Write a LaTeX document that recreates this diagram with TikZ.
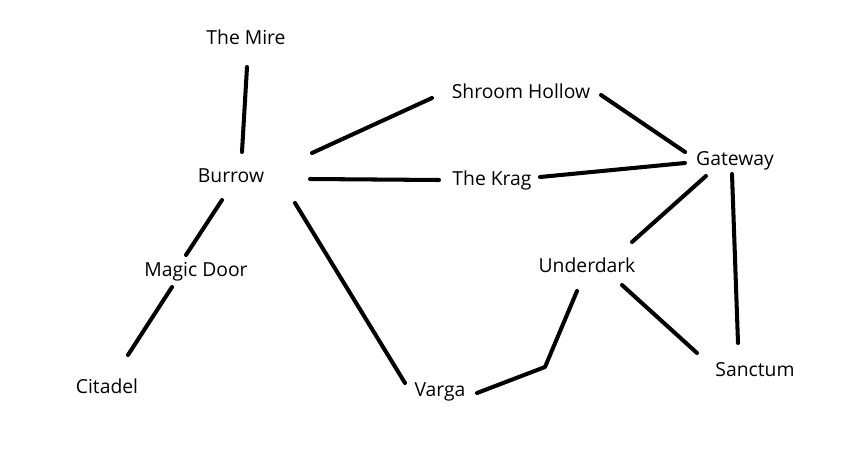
\documentclass[tikz,border=0pt]{standalone}
\usepackage{fontspec}
\setmainfont{Open Sans}
\usetikzlibrary{calc}
\tikzset{
    mapgraph/.style={x=0.02cm, y=-0.02cm, font=\fontsize{11pt}{13pt}\selectfont},
    place/.style={anchor=base, inner sep=0pt},
    path/.style={line width=2.3pt, line cap=round, line join=round},
}
\begin{document}
\begin{tikzpicture}[mapgraph]
    \useasboundingbox (0,0) rectangle (854,466);

    % places
    \node[place] (mire)    at (246,45)  {The Mire};
    \node[place] (burrow)  at (231,182) {Burrow};
    \node[place] (door)    at (196,276) {Magic Door};
    \node[place] (citadel) at (107,393) {Citadel};
    \node[place] (shroom)  at (521,98)  {Shroom Hollow};
    \node[place] (krag)    at (492,185) {The Krag};
    \node[place] (gateway) at (735,165) {Gateway};
    \node[place] (under)   at (587,272) {Underdark};
    \node[place] (varga)   at (440,396) {Varga};
    \node[place] (sanctum) at (755,376) {Sanctum};

    % tunnels
    \draw[path] ($(mire.base)+(1,22)$) -- ($(burrow.base)+(11,-30)$);
    \draw[path] ($(burrow.base)+(-9,18)$) -- ($(door.base)+(-10,-21)$);
    \draw[path] ($(door.base)+(-24,11)$) -- ($(citadel.base)+(21,-38)$);
    \draw[path] ($(burrow.base)+(81,-29)$) -- ($(shroom.base)+(-89,0)$);
    \draw[path] ($(burrow.base)+(79,-3)$) -- ($(krag.base)+(-53,-5)$);
    \draw[path] ($(burrow.base)+(64,21)$) -- ($(varga.base)+(-35,-13)$);
    \draw[path] ($(shroom.base)+(80,-3)$) -- ($(gateway.base)+(-50,-13)$);
    \draw[path] ($(krag.base)+(48,-8)$) -- ($(gateway.base)+(-50,-2)$);
    \draw[path] ($(gateway.base)+(-29,11)$) -- ($(under.base)+(45,-30)$);
    \draw[path] ($(gateway.base)+(-3,9)$) -- ($(sanctum.base)+(-17,-33)$);
    \draw[path] ($(under.base)+(35,13)$) -- ($(sanctum.base)+(-58,-23)$);
    \draw[path] ($(under.base)+(-10,19)$) -- ($(varga.base)+(105,-29)$) -- ($(varga.base)+(37,-3)$);
\end{tikzpicture}
\end{document}
